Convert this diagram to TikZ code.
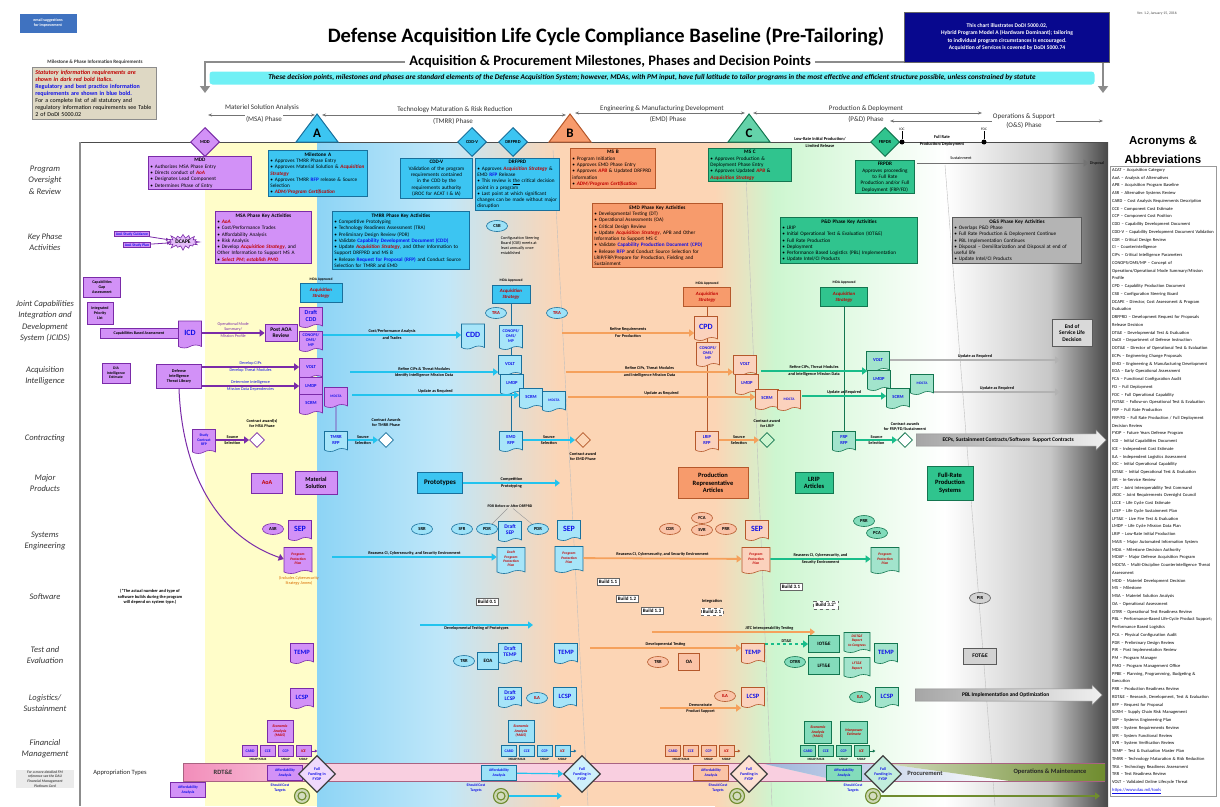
\documentclass[tikz,border=0pt]{standalone}
\usepackage{fontspec}
\setmainfont{Carlito}
\newfontfamily\headfont{Liberation Sans}
\usetikzlibrary{arrows.meta,shapes.geometric,shapes.symbols,shapes.arrows,positioning}
\pgfdeclarelayer{bands}
\pgfdeclarelayer{wires}
\pgfsetlayers{bands,wires,main}
\hyphenpenalty=10000
\exhyphenpenalty=10000
\definecolor{purpD}{HTML}{7A2BA8}
\definecolor{purpL}{HTML}{D291F7}
\definecolor{blueD}{HTML}{19709C}
\definecolor{blueL}{HTML}{3CC5F2}
\definecolor{oraD}{HTML}{B5582B}
\definecolor{oraL}{HTML}{F79B6C}
\definecolor{grnD}{HTML}{137650}
\definecolor{grnL}{HTML}{30C48E}
\definecolor{gryD}{HTML}{5A5A5A}
\definecolor{gryL}{HTML}{B4B4B4}
\definecolor{statRed}{HTML}{C00000}
\definecolor{regBlue}{HTML}{1010E8}
\definecolor{bandYel}{HTML}{FFFDC9}
\definecolor{bandBlu}{HTML}{8DD4F5}
\definecolor{bandOra}{HTML}{FCD5B5}
\definecolor{bandGrn}{HTML}{CDF6D0}
\definecolor{navyBox}{HTML}{08088E}
\definecolor{banner}{HTML}{70F0F5}
\definecolor{infoTan}{HTML}{DED8C4}
\definecolor{mailBlue}{HTML}{3F72C0}
\definecolor{arrCyan}{HTML}{22C3EE}
\definecolor{arrOra}{HTML}{F5A15C}
\definecolor{arrGrn}{HTML}{19BD8A}
\definecolor{olive}{HTML}{6F8C2E}
\definecolor{apPink}{HTML}{F28DBA}
\definecolor{apPinkL}{HTML}{F9CFE0}
\definecolor{apBlue}{HTML}{9CB3DA}
\newcommand\statreq[1]{\textcolor{statRed}{\textbf{\textit{#1}}}}
\newcommand\regreq[1]{\textcolor{regBlue}{\textbf{#1}}}
\newcommand\bul{\textbullet\ }
\newcommand\bxttl[1]{\hfill\textbf{#1}\hfill\null\\}
\begin{document}
\begin{tikzpicture}[x=1pt,y=-1pt,>={Triangle[length=5pt,width=7pt]},
    every node/.style={inner sep=1pt},
    tx/.style={font=\fontsize{4.2}{5}\selectfont,align=center},
    txb/.style={font=\fontsize{4.2}{5}\selectfont\bfseries,align=center},
    rowlab/.style={font=\fontsize{8.5}{11.5}\selectfont\itshape,align=center,text=black!80},
    phase/.style={font=\fontsize{7}{8.5}\selectfont,text=black!80},
    kbox/.style={draw,line width=0.9pt,anchor=north west,align=left,inner sep=2pt,
      font=\fontsize{5.2}{6.3}\selectfont},
    pbox/.style={kbox,draw=purpD,fill=purpL},
    bbox/.style={kbox,draw=blueD,fill=blueL},
    obox/.style={kbox,draw=oraD,fill=oraL},
    gbox/.style={kbox,draw=grnD,fill=grnL},
    ybox/.style={kbox,draw=gryD,fill=gryL},
    sbox/.style={draw,line width=0.8pt,align=center,inner sep=1pt,
      font=\fontsize{4}{4.8}\selectfont\bfseries},
    doc/.style={tape,tape bend top=none,tape bend height=3pt,draw,line width=0.6pt,
      align=center,minimum width=23pt,minimum height=20pt,inner sep=0.5pt,
      text=regBlue,font=\fontsize{4.6}{5.2}\selectfont\bfseries},
    bigdoc/.style={doc,font=\fontsize{8}{8}\selectfont\bfseries},
    ppdoc/.style={doc,text=statRed,font=\fontsize{3.6}{4.2}\selectfont\bfseries\itshape,
      minimum width=28pt,minimum height=26pt},
    pdoc/.style={draw=purpD,fill=purpL},
    bdoc/.style={draw=blueD,fill=blueL!45},
    odoc/.style={draw=oraD,fill=oraL!45},
    gdoc/.style={draw=grnD,fill=grnL!45},
    ev/.style={ellipse,draw,line width=0.6pt,minimum width=21pt,minimum height=11pt,
      inner sep=0pt,font=\fontsize{4.6}{5}\selectfont\bfseries},
    pev/.style={ev,draw=purpD,fill=purpL},
    bev/.style={ev,draw=blueD,fill=blueL!50},
    oev/.style={ev,draw=oraD,fill=oraL!60},
    gev/.style={ev,draw=grnD,fill=grnL!60},
    msdia/.style={diamond,draw,line width=1pt,minimum size=29pt,inner sep=0pt,
      font=\fontsize{4.5}{5}\selectfont\bfseries},
    cdia/.style={diamond,draw,line width=0.8pt,fill=white,minimum size=15pt,inner sep=0pt},
    ffdia/.style={diamond,draw=black!75,line width=1.2pt,minimum size=37pt,inner sep=0pt,
      text=regBlue,font=\fontsize{4}{4.6}\selectfont\bfseries,align=center},
    build/.style={draw=black!60,fill=white,line width=0.6pt,inner sep=2pt,
      font=\fontsize{5}{5}\selectfont\bfseries},
    parr/.style={->,draw=purpD,line width=1.6pt},
    carr/.style={->,draw=arrCyan,line width=1.8pt},
    oarr/.style={->,draw=arrOra,line width=1.8pt},
    garr/.style={->,draw=arrGrn,line width=1.8pt},
    yarr/.style={->,draw=black!30,line width=1.3pt},
    wire/.style={line width=0.6pt},
    phline/.style={{Stealth[length=4pt]}-{Stealth[length=4pt]},draw=black!55,line width=0.6pt},
    bigarr/.style={single arrow,draw=black!45,left color=black!35,right color=black!6,
      single arrow head extend=4pt,inner sep=3.5pt,
      font=\fontsize{5.5}{6}\selectfont\bfseries}]
  \useasboundingbox (0,0) rectangle (1220,806);
  % phase colour bands
  \begin{pgfonlayer}{bands}
    \fill[bandYel] (205,142) rectangle (317,806);
    \shade[left color=bandBlu,right color=bandBlu!55] (317,142) rectangle (445,806);
    \shade[left color=bandBlu!55,right color=bandOra] (445,142) rectangle (560,806);
    \fill[bandOra] (560,142) rectangle (715,806);
    \shade[left color=bandOra,right color=bandGrn] (715,142) rectangle (775,806);
    \shade[left color=bandGrn,right color=white] (775,142) rectangle (945,806);
    \shade[left color=white,right color=black!22] (945,142) rectangle (1050,806);
    \shade[left color=black!22,right color=black!72] (1050,142) rectangle (1108,806);
    \draw[black!25,line width=0.4pt] (553,150) -- (588,806);
    \draw[black!25,line width=0.4pt] (745,150) -- (772,806);
    \draw[black!25,line width=0.4pt] (945,165) -- (995,806);
    \draw[black!70,line width=0.6pt] (80,142) -- (1108,142);
    \draw[black!45,line width=1.5pt] (80,142) -- (80,806);
  \end{pgfonlayer}

  % header
  \node[fill=mailBlue,text=white,font=\fontsize{4}{5}\selectfont\bfseries,align=center,
    minimum width=57pt,minimum height=19pt] (mail) at (48,23) {email suggestions\\for improvement};
  \node[font=\fontsize{20.5}{22}\selectfont\bfseries] (ttl) at (606,37)
    {Defense Acquisition Life Cycle Compliance Baseline (Pre-Tailoring)};
  \node[font=\fontsize{14.5}{16}\selectfont\bfseries,inner sep=4pt] (subttl) at (610,62)
    {Acquisition \& Procurement Milestones, Phases and Decision Points};
  \coordinate (brL) at (205,93);
  \coordinate (brR) at (1103,93);
  \draw[black!45,line width=2.2pt,-{Triangle[length=7pt,width=10pt]}] (subttl.west) -| (brL);
  \draw[black!45,line width=2.2pt,-{Triangle[length=7pt,width=10pt]}] (subttl.east) -| (brR);
  \node[fill=navyBox,draw=black!60,text=white,font=\fontsize{5.6}{7.4}\selectfont\bfseries,
    align=center,minimum width=205pt,minimum height=50pt] (dodi) at (1007,37)
    {This chart illustrates DoDI 5000.02,\\Hybrid Program Model A (Hardware Dominant); tailoring\\
     to individual program circumstances is encouraged.\\Acquisition of Services is covered by DoDI 5000.74};
  \node[font=\fontsize{3.8}{4}\selectfont,text=black!70] (ver) at (1157,14) {Ver. 1.2, January 15, 2016};
  \node[fill=banner,rounded corners=3pt,minimum width=885pt,minimum height=13pt,
    font=\fontsize{7.3}{7.5}\selectfont\bfseries\itshape] (bnr) at (652,78)
    {These decision points, milestones and phases are standard elements of the Defense Acquisition System; however, MDAs, with PM input, have full latitude to tailor programs in the most effective and efficient structure possible, unless constrained by statute};
  \node[font=\fontsize{5}{6}\selectfont\bfseries,text=black!80] (infoHd) at (95,62)
    {Milestone \& Phase Information Requirements};
  \node[draw=black!45,fill=infoTan,line width=0.8pt,anchor=north west,text width=118pt,align=left,
    font=\fontsize{6}{7}\selectfont,inner sep=3pt] (info) at (32,67)
    {\statreq{Statutory information requirements are shown in dark red bold italics.}\\
     \regreq{Regulatory and best practice information requirements are shown in blue bold.}\\
     For a complete list of all statutory and regulatory information requirements see Table 2 of DoDI 5000.02};

  % phases along the top
  \coordinate (msaL) at (208,115); \coordinate (msaR) at (315,115);
  \coordinate (tmrL) at (322,115); \coordinate (tmrR) at (566,115);
  \coordinate (emdL) at (575,113); \coordinate (emdR) at (745,113);
  \coordinate (pndL) at (753,113); \coordinate (pndR) at (982,113);
  \coordinate (onsL) at (890,121); \coordinate (onsR) at (1103,121);
  \draw[phline] (msaL) -- (msaR);
  \draw[phline] (tmrL) -- (tmrR);
  \draw[phline] (emdL) -- (emdR);
  \draw[phline] (pndL) -- (pndR);
  \draw[phline] (onsL) -- (onsR);
  \node[phase] (msaT1) at (262,108) {Materiel Solution Analysis};
  \node[phase,fill=white] (msaT2) at (264,119) {(MSA) Phase};
  \node[phase] (tmrT1) at (455,110) {Technology Maturation \& Risk Reduction};
  \node[phase] (tmrT2) at (453,121) {(TMRR) Phase};
  \node[phase] (emdT1) at (662,109) {Engineering \& Manufacturing Development};
  \node[phase] (emdT2) at (668,119) {(EMD) Phase};
  \node[phase] (pndT1) at (866,109) {Production \& Deployment};
  \node[phase] (pndT2) at (866,119) {(P\&D) Phase};
  \node[phase,fill=white,align=center] (onsT) at (1024,121) {Operations \& Support\\(O\&S) Phase};

  % milestones and decision points
  \foreach \x/\l/\c/\d in {317/A/blueL/blueD,570/B/oraL/oraD,749/C/grnL!75/grnD}{
    \draw[fill=\c,draw=\d,line width=1pt] (\x-21,142) -- (\x,114) -- (\x+21,142) -- cycle;
    \node[font=\fontsize{13}{13}\selectfont\bfseries] (ms\l) at (\x,133) {\l};
  }
  \node[msdia,draw=purpD,fill=purpL] (mdd) at (205,142) {MDD};
  \node[msdia,draw=blueD,fill=blueL] (cddv) at (472,142) {CDD-V};
  \node[msdia,draw=blueD,fill=blueL] (drfprd) at (513,142) {DRFPRD};
  \node[msdia,draw=grnD,fill=grnL] (frpdr) at (885,142) {FRPDR};
  \foreach \x/\n in {902/IOC,984/FOC}{
    \node[circle,fill=black,inner sep=0pt,minimum size=5pt] (\n) at (\x,142) {};
    \node[font=\fontsize{3.6}{4}\selectfont] (lb\n) at (\x,129) {\n};
    \draw[line width=1pt] (\n) -- (lb\n);
  }
  \node[txb,font=\fontsize{4.4}{7}\selectfont\bfseries] (lrip) at (820,142) {Low-Rate Initial Production/\\Limited Release};
  \node[txb,font=\fontsize{4.4}{7}\selectfont\bfseries] (frpd) at (942,141) {Full Rate\\Production/Deployment};
  \node[tx] (sustLab) at (961,158) {Sustainment};
  \node[tx] (dispLab) at (1097,163) {Disposal};
  \coordinate (sustL) at (917,163);
  \draw[->,black!55,line width=0.6pt] (sustL) -- (dispLab.west);

  % row labels
  \foreach \y/\t [count=\i] in {180/{Program\\Oversight\\\& Review},242/{Key Phase\\Activities},
      321/{Joint Capabilities\\Integration and\\Development\\System (JCIDS)},376/{Acquisition\\Intelligence},
      438/{Contracting},483/{Major\\Products},541/{Systems\\Engineering},597/{Software},
      655/{Test and\\Evaluation},703/{Logistics/\\Sustainment},749/{Financial\\Management}}{
    \node[rowlab] (row\i) at (45,\y) {\t};
  }
  \node[fill=black!8,font=\fontsize{3.7}{4.6}\selectfont\bfseries\itshape,align=center,text=black!70,
    minimum width=58pt] (fmNote) at (45,779) {For a more detailed FM\\reference see the DAU\\Financial Management\\Platinum Card};
  \node[font=\fontsize{6.5}{7}\selectfont,text=black!85] (apTypes) at (120,773) {Appropriation Types};

  % program oversight and review
  \node[pbox,text width=99pt] (mddBox) at (148,156) {\bxttl{MDD}
    \bul Authorizes MSA Phase Entry\\
    \bul Directs conduct of \statreq{AoA}\\
    \bul Designates Lead Component\\
    \bul Determines Phase of Entry};
  \node[bbox,text width=95pt] (msaBox) at (268,150) {\bxttl{Milestone A}
    \bul Approves TMRR Phase Entry\\
    \bul Approves Material Solution \& \statreq{Acquisition Strategy}\\
    \bul Approves TMRR \regreq{RFP} release \& Source Selection\\
    \bul \statreq{ADM/Program Certification}};
  \node[bbox,text width=68pt,align=center] (cddvBox) at (400,158) {\textbf{CDD-V}\\
    Validation of the program requirements contained in the CDD by the requirements authority (JROC for ACAT I \& IA)};
  \node[bbox,text width=80pt] (drfBox) at (475,158) {\bxttl{DRFPRD}
    \bul Approves \statreq{Acquisition Strategy} \& EMD \regreq{RFP} Release\\
    \bul This review is \underline{the} critical decision point in a program\\
    \bul Last point at which significant changes can be made without major disruption};
  \node[obox,text width=81pt] (msbBox) at (570,148) {\bxttl{MS B}
    \bul Program Initiation\\
    \bul Approves EMD Phase Entry\\
    \bul Approves \statreq{APB} \& Updated DRFPRD information\\
    \bul \statreq{ADM/Program Certification}};
  \node[gbox,text width=79pt] (mscBox) at (708,148) {\bxttl{MS C}
    \bul Approves Production \& Deployment Phase Entry\\
    \bul Approves Updated \statreq{APB} \& \statreq{Acquisition Strategy}};
  \node[gbox,text width=55pt,align=center] (frpdrBox) at (855,160) {\textbf{FRPDR}\\
    Approves proceeding to Full Rate Production and/or Full Deployment (FRP/FD)};

  % key phase activities
  \node[sbox,draw=purpD,fill=purpL,font=\fontsize{3.8}{4.4}\selectfont\bfseries,text=regBlue] (aoaSG) at (132,234) {AoA Study Guidance};
  \node[sbox,draw=purpD,fill=purpL,font=\fontsize{3.8}{4.4}\selectfont\bfseries,text=regBlue] (aoaSP) at (137,245) {AoA Study Plan};
  \node[starburst,starburst points=16,starburst point height=5pt,draw=purpD,fill=purpL!60,
    line width=0.6pt,font=\fontsize{5.5}{6}\selectfont\bfseries,inner sep=1pt] (dcape) at (183,242) {DCAPE};
  \draw[-{Triangle[length=3pt,width=3pt]},draw=purpD,line width=0.8pt] (aoaSG) -- (dcape);
  \draw[-{Triangle[length=3pt,width=3pt]},draw=purpD,line width=0.8pt] (aoaSP) -- (dcape);
  \node[pbox,text width=92pt] (msaAct) at (215,211) {\bxttl{MSA Phase Key Activities}
    \bul \statreq{AoA}\\
    \bul Cost/Performance Trades\\
    \bul Affordability Analysis\\
    \bul Risk Analysis\\
    \bul Develop \statreq{Acquisition Strategy}, and Other Information to Support MS A\\
    \bul \statreq{Select PM; establish PMO}};
  \node[bbox,text width=133pt] (tmrrAct) at (332,211) {\bxttl{TMRR Phase Key Activities}
    \bul Competitive Prototyping\\
    \bul Technology Readiness Assessment (TRA)\\
    \bul Preliminary Design Review (PDR)\\
    \bul Validate \regreq{Capability Development Document (CDD)}\\
    \bul Update \statreq{Acquisition Strategy}, and Other Information to Support DRFPRD and MS B\\
    \bul Release \regreq{Request for Proposal (RFP)} and Conduct Source Selection for TMRR and EMD};
  \node[bev] (csb) at (497,226) {CSB};
  \node[tx,align=left] (csbTxt) at (520,246) {Configuration Steering\\Board (CSB) meets at\\least annually once\\established};
  \node[obox,text width=126pt] (emdAct) at (592,203) {\bxttl{EMD Phase Key Activities}
    \bul Developmental Testing (DT)\\
    \bul Operational Assessments (OA)\\
    \bul Critical Design Review\\
    \bul Update \statreq{Acquisition Strategy}, APB and Other Information to Support MS C\\
    \bul Validate \regreq{Capability Production Document (CPD)}\\
    \bul Release \regreq{RFP} and Conduct Source Selection for LRIP/FRP/Prepare for Production, Fielding and Sustainment};
  \node[gbox,text width=133pt] (pdAct) at (780,217) {\bxttl{P\&D Phase Key Activities}
    \bul LRIP\\
    \bul Initial Operational Test \& Evaluation (IOT\&E)\\
    \bul Full Rate Production\\
    \bul Deployment\\
    \bul Performance Based Logistics (PBL) Implementation\\
    \bul Update Intel/CI Products};
  \node[ybox,text width=125pt] (osAct) at (952,217) {\bxttl{O\&S Phase Key Activities}
    \bul Overlaps P\&D Phase\\
    \bul Full Rate Production \& Deployment Continue\\
    \bul PBL Implementation Continues\\
    \bul Disposal -- Demilitarization and Disposal at end of useful life\\
    \bul Update Intel/CI Products};

  % JCIDS
  \node[sbox,draw=purpD,fill=purpL,minimum width=37pt,minimum height=20pt] (capGap) at (102,287) {Capabilities\\Gap\\Assessment};
  \node[sbox,draw=purpD,fill=purpL,minimum width=26pt,minimum height=22pt] (ipl) at (100,313) {Integrated\\Priority\\List};
  \node[sbox,draw=purpD,fill=purpL,minimum width=78pt,minimum height=10pt] (cba) at (139,333) {Capabilities Based Assessment};
  \node[bigdoc,pdoc,minimum height=27pt] (icd) at (190,333) {ICD};
  \node[sbox,draw=purpD,fill=purpL,font=\fontsize{5.5}{6}\selectfont\bfseries,minimum width=32pt,
    minimum height=17pt] (postAoA) at (281,333) {Post AOA\\Review};
  \draw[parr] (icd) -- node[above,tx,text=purpD]{Operational Mode\\Summary/} node[below,tx,text=purpD]{Mission Profile} (postAoA);
  \node[txb,font=\fontsize{3.6}{4}\selectfont\bfseries] (maLabA) at (321,280) {MDA Approved};
  \node[sbox,draw=blueD,fill=blueL,text=statRed,font=\fontsize{4.8}{5.6}\selectfont\bfseries\itshape,
    minimum width=42pt,minimum height=19pt] (asA) at (321,293) {Acquisition\\Strategy};
  \node[doc,pdoc,font=\fontsize{6}{6.5}\selectfont\bfseries] (draftCdd) at (311,316) {Draft\\CDD};
  \node[doc,pdoc,font=\fontsize{4.2}{4.8}\selectfont\bfseries] (conopsA) at (311,340) {CONOPS/\\OMS/\\MP};
  \node[bigdoc,bdoc,minimum height=25pt] (cdd) at (473,335) {CDD};
  \draw[carr] (conopsA.east |- cdd) -- node[above,txb]{Cost/Performance Analysis} node[below,txb]{and Trades} (cdd);
  \node[txb,font=\fontsize{3.6}{4}\selectfont\bfseries] (maLabB) at (511,281) {MDA Approved};
  \node[sbox,draw=blueD,fill=blueL,text=statRed,font=\fontsize{4.8}{5.6}\selectfont\bfseries\itshape,
    minimum width=38pt,minimum height=18pt] (asB) at (511,294) {Acquisition\\Strategy};
  \node[bev,text=statRed] (tra1) at (496,313) {TRA};
  \node[bev,text=statRed] (tra2) at (557,313) {TRA};
  \node[doc,bdoc,font=\fontsize{4.2}{4.8}\selectfont\bfseries,minimum height=24pt] (conopsB) at (511,336) {CONOPS/\\OMS/\\MP};
  \node[txb,font=\fontsize{3.6}{4}\selectfont\bfseries] (maLabC) at (707,284) {MDA Approved};
  \node[sbox,draw=oraD,fill=oraL,text=statRed,font=\fontsize{4.8}{5.6}\selectfont\bfseries\itshape,
    minimum width=47pt,minimum height=19pt] (asC) at (707,297) {Acquisition\\Strategy};
  \node[bigdoc,odoc,minimum height=24pt] (cpd) at (706,327) {CPD};
  \node[doc,odoc,font=\fontsize{4.2}{4.8}\selectfont\bfseries,minimum height=24pt] (conopsC) at (708,353) {CONOPS/\\OMS/\\MP};
  \coordinate (rrS) at (562,333);
  \draw[oarr] (rrS) -- node[above,txb]{Refine Requirements} node[below,txb]{For Production} (rrS -| cpd.west);
  \node[txb,font=\fontsize{3.6}{4}\selectfont\bfseries] (maLabD) at (844,283) {MDA Approved};
  \node[sbox,draw=grnD,fill=grnL,text=statRed,font=\fontsize{4.8}{5.6}\selectfont\bfseries\itshape,
    minimum width=47pt,minimum height=19pt] (asD) at (844,297) {Acquisition\\Strategy};
  \node[sbox,draw=gryD,fill=gryL!50,font=\fontsize{5.5}{6.5}\selectfont\bfseries,minimum width=40pt,
    minimum height=27pt] (eosl) at (1072,333) {End of\\Service Life\\Decision};

  % acquisition intelligence
  \node[sbox,draw=purpD,fill=purpL,minimum width=28pt,minimum height=20pt,
    font=\fontsize{3.8}{4.4}\selectfont\bfseries] (intEst) at (116,373) {DIA\\Intelligence\\Estimate};
  \node[sbox,draw=purpD,fill=purpL,minimum width=45pt,minimum height=24pt,
    font=\fontsize{4.2}{5}\selectfont\bfseries] (ditl) at (179,376) {Defense\\Intelligence\\Threat Library};
  \node[doc,pdoc] (voltA) at (311,367) {VOLT};
  \node[doc,pdoc] (lmdpA) at (311,386) {LMDP};
  \node[doc,pdoc] (scrmA) at (311,403) {SCRM};
  \node[doc,pdoc,font=\fontsize{3.6}{4}\selectfont\bfseries] (mdctaA) at (336,396) {MDCTA};
  \draw[parr] (ditl.east |- voltA) -- node[above,tx,text=regBlue]{Develop CIPs} node[below,tx,text=regBlue]{Develop Threat Modules} (voltA);
  \draw[parr] (ditl.east |- lmdpA) -- node[above,tx,text=regBlue]{Determine Intelligence} node[below,tx,text=regBlue]{Mission Data Dependencies} (lmdpA);
  \node[doc,bdoc] (voltB) at (510,364) {VOLT};
  \node[doc,bdoc] (lmdpB) at (512,383) {LMDP};
  \node[doc,bdoc] (scrmB) at (531,397) {SCRM};
  \node[doc,bdoc,font=\fontsize{3.6}{4}\selectfont\bfseries] (mdctaB) at (554,400) {MDCTA};
  \coordinate (ciA) at (350,372);
  \coordinate (ciB) at (352,395);
  \draw[carr] (ciA) -- node[above,txb]{Refine CIPs \& Threat Modules} node[below,txb]{Identify Intelligence Mission Data} (ciA -| voltB.west);
  \draw[carr] (ciB) -- node[above,txb]{Update as Required} (ciB -| scrmB.west);
  \node[doc,odoc] (voltC) at (745,364) {VOLT};
  \node[doc,odoc] (lmdpC) at (747,383) {LMDP};
  \node[doc,odoc] (scrmC) at (767,398) {SCRM};
  \node[doc,odoc,font=\fontsize{3.6}{4}\selectfont\bfseries] (mdctaC) at (789,399) {MDCTA};
  \coordinate (coA) at (566,372);
  \coordinate (coB) at (568,397);
  \draw[oarr] (coA) -- node[above,txb]{Refine CIPs, Threat Modules} node[below,txb]{and Intelligence Mission Data} (coA -| voltC.west);
  \draw[oarr] (coB) -- node[above,txb]{Update as Required} (coB -| scrmC.west);
  \node[doc,gdoc] (voltD) at (878,360) {VOLT};
  \node[doc,gdoc] (lmdpD) at (879,379) {LMDP};
  \node[doc,gdoc] (scrmD) at (898,397) {SCRM};
  \node[doc,gdoc,font=\fontsize{3.6}{4}\selectfont\bfseries] (mdctaD) at (922,383) {MDCTA};
  \coordinate (cgA) at (761,371);
  \coordinate (cgB) at (802,396);
  \draw[garr] (cgA) -- node[above,txb]{Refine CIPs, Threat Modules} node[below,txb]{and Intelligence Mission Data} (cgA -| lmdpD.west);
  \draw[garr] (cgB) -- node[above,txb]{Update as Required} (cgB -| scrmD.west);
  \coordinate (gyA) at (1060,360);
  \coordinate (gyB) at (1060,392);
  \draw[yarr] (voltD.east |- gyA) -- node[above,txb]{Update as Required} (gyA);
  \draw[yarr] (mdctaD.east |- gyB) -- node[above,txb]{Update as Required} (gyB);

  % contracting
  \node[doc,pdoc,font=\fontsize{3.8}{4.4}\selectfont\bfseries,minimum height=24pt] (scRFP) at (204,440) {Study\\Contract\\RFP};
  \node[cdia,draw=purpD] (cdMSA) at (257,440) {};
  \node[txb] (cdMSAt) at (262,423) {Contract award(s)\\for MSA Phase};
  \draw[parr] (scRFP) -- node[above,txb]{Source} node[below,txb]{Selection} (cdMSA);
  \node[doc,bdoc] (tmrrRFP) at (336,440) {TMRR\\RFP};
  \node[cdia,draw=blueD] (cdTMRR) at (386,440) {};
  \node[txb] (cdTMRRt) at (386,423) {Contract Awards\\for TMRR Phase};
  \draw[carr] (tmrrRFP) -- node[above,txb]{Source} node[below,txb]{Selection} (cdTMRR);
  \node[doc,bdoc] (emdRFP) at (511,440) {EMD\\RFP};
  \node[cdia,draw=oraD,fill=bandOra] (cdEMD) at (583,440) {};
  \node[txb] (cdEMDt) at (583,457) {Contract award\\for EMD Phase};
  \draw[carr] (emdRFP) -- node[above,txb]{Source} node[below,txb]{Selection} (cdEMD);
  \node[doc,odoc] (lripRFP) at (707,440) {LRIP\\RFP};
  \node[cdia,draw=grnD,fill=bandGrn] (cdLRIP) at (767,440) {};
  \node[txb] (cdLRIPt) at (767,424) {Contract award\\for LRIP};
  \draw[oarr] (lripRFP) -- node[above,txb]{Source} node[below,txb]{Selection} (cdLRIP);
  \node[doc,gdoc] (frpRFP) at (844,440) {FRP\\RFP};
  \node[cdia,draw=grnD] (cdFRP) at (905,440) {};
  \node[txb] (cdFRPt) at (905,427) {Contract awards\\for FRP/FD/Sustainment};
  \draw[garr] (frpRFP) -- node[above,txb]{Source} node[below,txb]{Selection} (cdFRP);
  \node[bigarr,minimum height=190pt,anchor=west] (ecps) at (916,440) {ECPs, Sustainment Contracts/Software\ \ Support Contracts};
  \begin{pgfonlayer}{wires}
    \draw[wire,draw=purpD] (mdctaA) -- (tmrrRFP);
    \draw[wire,draw=blueD] (asB) -- (emdRFP);
    \draw[wire,draw=oraD] (asC) -- (lripRFP);
    \draw[wire,draw=grnD] (asD) -- (frpRFP);
  \end{pgfonlayer}

  % major products
  \node[sbox,draw=purpD,fill=purpL,text=statRed,font=\fontsize{6}{7}\selectfont\bfseries,
    minimum width=31pt,minimum height=20pt] (aoaP) at (267,483) {AoA};
  \node[sbox,draw=purpD,fill=purpL,font=\fontsize{6}{7}\selectfont\bfseries,
    minimum width=42pt,minimum height=23pt] (matSol) at (316,483) {Material\\Solution};
  \node[sbox,draw=blueD,fill=blueL,font=\fontsize{7}{8}\selectfont\bfseries,
    minimum width=45pt,minimum height=21pt] (proto) at (440,483) {Prototypes};
  \coordinate (protoE) at (560,483);
  \draw[carr] (proto) -- node[above,txb]{Competition} node[below,txb]{Prototyping} (protoE);
  \node[sbox,draw=oraD,fill=oraL,font=\fontsize{6.5}{7.5}\selectfont\bfseries,
    minimum width=70pt,minimum height=31pt] (pra) at (713,483) {Production\\Representative\\Articles};
  \node[sbox,draw=grnD,fill=grnL,font=\fontsize{6.5}{7.5}\selectfont\bfseries,
    minimum width=38pt,minimum height=21pt] (lripArt) at (814,483) {LRIP\\Articles};
  \node[sbox,draw=grnD,fill=grnL,font=\fontsize{6.5}{7.5}\selectfont\bfseries,
    minimum width=46pt,minimum height=34pt] (frpSys) at (950,483) {Full-Rate\\Production\\Systems};

  % systems engineering
  \node[pev] (asr) at (273,529) {ASR};
  \node[bigdoc,pdoc] (sepA) at (300,529) {SEP};
  \node[ppdoc,pdoc] (ppA) at (298,559) {Program\\Protection\\Plan};
  \node[tx,text=orange!85!black] (ppNote) at (299,581) {(Includes Cybersecurity\\Strategy Annex)};
  \draw[parr,line width=1pt] (ditl.south) .. controls (182,470) and (215,535) .. (ppA.west);
  \node[bev] (srr) at (422,529) {SRR};
  \node[bev] (sfr) at (462,529) {SFR};
  \node[bev] (pdr1) at (487,529) {PDR};
  \node[doc,bdoc,font=\fontsize{5.5}{6}\selectfont\bfseries] (draftSep) at (510,530) {Draft\\SEP};
  \node[bev] (pdr2) at (538,529) {PDR};
  \node[bigdoc,bdoc] (sepB) at (569,529) {SEP};
  \node[txb,font=\fontsize{3.8}{4.4}\selectfont\bfseries] (pdrNote) at (510,506) {PDR Before or After DRFPRD};
  \draw[black!40,line width=0.4pt] (pdrNote) -- (pdr1);
  \draw[black!40,line width=0.4pt] (pdrNote) -- (pdr2);
  \node[ppdoc,bdoc] (draftPP) at (511,559) {Draft\\Program\\Protection\\Plan};
  \node[ppdoc,bdoc] (ppB) at (569,558) {Program\\Protection\\Plan};
  \coordinate (reA) at (332,557);
  \draw[carr] (reA) -- node[above,txb]{Reassess CI, Cybersecurity, and Security Environment} (reA -| draftPP.west);
  \node[oev] (cdr) at (670,529) {CDR};
  \node[oev] (fca) at (702,518) {FCA};
  \node[oev] (svr) at (702,530) {SVR};
  \node[oev] (prr1) at (726,529) {PRR};
  \node[bigdoc,odoc] (sepC) at (757,529) {SEP};
  \node[ppdoc,odoc] (ppC) at (756,559) {Program\\Protection\\Plan};
  \draw[oarr] (ppB) -- node[above,txb]{Reassess CI, Cybersecurity, and Security Environment} (ppC);
  \node[gev] (prr2) at (864,521) {PRR};
  \node[gev] (pca) at (877,533) {PCA};
  \node[ppdoc,gdoc] (ppD) at (885,559) {Program\\Protection\\Plan};
  \draw[garr] (ppC) -- node[above,txb]{Reassess CI, Cybersecurity, and} node[below,txb]{Security Environment} (ppD);

  % software
  \node[tx,font=\fontsize{4.4}{5.4}\selectfont\bfseries] (swNote) at (150,597)
    {(*The actual number and type of\\software builds during the program\\will depend on system type.)};
  \node[build] (b01) at (487,602) {Build 0.1};
  \node[build] (b11) at (608,582) {Build 1.1};
  \node[build] (b12) at (627,599) {Build 1.2};
  \node[build] (b13) at (652,611) {Build 1.3};
  \node[txb,font=\fontsize{4.4}{5}\selectfont\bfseries] (integ) at (712,601) {Integration};
  \node[build,dashed] (b21) at (712,612) {Build 2.1};
  \node[build] (b31) at (791,587) {Build 3.1};
  \node[build,dashed] (b32) at (826,605) {Build 3.2*};
  \node[ev,draw=gryD,fill=gryL!60] (pir) at (980,598) {PIR};

  % test and evaluation
  \node[bigdoc,pdoc,font=\fontsize{6.5}{7}\selectfont\bfseries] (tempA) at (302,652) {TEMP};
  \coordinate (dtpS) at (420,625);
  \coordinate (dtpE) at (533,625);
  \draw[carr] (dtpS) -- node[below,txb]{Developmental Testing of Prototypes} (dtpE);
  \node[bev] (trrB) at (464,661) {TRR};
  \node[sbox,draw=blueD,fill=blueL!50,font=\fontsize{5}{5}\selectfont\bfseries,minimum width=21pt,
    minimum height=17pt] (eoa) at (488,661) {EOA};
  \node[doc,bdoc,font=\fontsize{5.5}{6}\selectfont\bfseries] (draftTemp) at (510,652) {Draft\\TEMP};
  \node[bigdoc,bdoc,font=\fontsize{6.5}{7}\selectfont\bfseries] (tempB) at (566,652) {TEMP};
  \coordinate (jitcS) at (652,632);
  \coordinate (jitcE) at (815,632);
  \draw[oarr] (jitcS) -- node[above,txb,pos=0.72]{JITC Interoperability Testing} (jitcE);
  \node[oev] (trrC) at (658,662) {TRR};
  \node[sbox,draw=oraD,fill=oraL!60,font=\fontsize{5}{5}\selectfont\bfseries,minimum width=21pt,
    minimum height=17pt] (oa) at (689,662) {OA};
  \node[bigdoc,odoc,font=\fontsize{6.5}{7}\selectfont\bfseries] (tempC) at (753,652) {TEMP};
  \coordinate (dtS) at (590,648);
  \draw[oarr] (dtS) -- node[above,txb]{Developmental Testing} (dtS -| tempC.west);
  \node[sbox,draw=grnD,fill=grnL!60,font=\fontsize{5}{5}\selectfont\bfseries,minimum width=31pt,
    minimum height=17pt] (iote) at (824,644) {IOT\&E};
  \node[sbox,draw=grnD,fill=grnL!60,font=\fontsize{5}{5}\selectfont\bfseries,minimum width=31pt,
    minimum height=17pt] (lfte) at (824,666) {LFT\&E};
  \node[gev] (otrr) at (795,662) {OTRR};
  \draw[garr,dashed,line width=1.2pt] (tempC.east |- iote) -- node[above,txb]{DT\&E} (iote);
  \node[doc,gdoc,text=statRed,font=\fontsize{3.6}{4.2}\selectfont\bfseries\itshape,minimum width=26pt] (dotRep) at (857,641) {DOT\&E\\Report\\to Congress};
  \node[doc,gdoc,text=statRed,font=\fontsize{3.6}{4.2}\selectfont\bfseries\itshape,minimum width=26pt] (lfteRep) at (857,666) {LFT\&E\\Report};
  \node[bigdoc,gdoc,font=\fontsize{6.5}{7}\selectfont\bfseries] (tempD) at (886,652) {TEMP};
  \node[sbox,draw=gryD,fill=gryL!60,font=\fontsize{5.5}{6}\selectfont\bfseries,minimum width=33pt,
    minimum height=16pt] (fote) at (980,656) {FOT\&E};

  % logistics / sustainment
  \node[bigdoc,pdoc,font=\fontsize{6.5}{7}\selectfont\bfseries] (lcspA) at (302,697) {LCSP};
  \node[doc,bdoc,font=\fontsize{5.5}{6}\selectfont\bfseries] (draftLcsp) at (510,696) {Draft\\LCSP};
  \node[bev,text=statRed] (ilaB) at (537,698) {ILA};
  \node[bigdoc,bdoc,font=\fontsize{6.5}{7}\selectfont\bfseries] (lcspB) at (565,696) {LCSP};
  \node[oev,text=statRed] (ilaC) at (725,696) {ILA};
  \node[bigdoc,odoc,font=\fontsize{6.5}{7}\selectfont\bfseries] (lcspC) at (753,696) {LCSP};
  \coordinate (dpsS) at (660,708);
  \draw[oarr] (dpsS) -- node[above,txb]{Demonstrate} node[below,txb]{Product Support} (dpsS -| lcspC.west);
  \node[gev,text=statRed] (ilaD) at (860,697) {ILA};
  \node[bigdoc,gdoc,font=\fontsize{6.5}{7}\selectfont\bfseries] (lcspD) at (887,696) {LCSP};
  \node[bigarr,minimum height=187pt,anchor=west] (pbl) at (915,695) {PBL Implementation and Optimization};

  % financial management
  \shade[left color=apPink,right color=apPinkL] (183,763) rectangle (330,781);
  \fill[apPinkL] (330,763) -- (760,763) -- (840,781) -- (330,781) -- cycle;
  \shade[left color=apBlue,right color=white] (760,763) -- (880,763) -- (1010,781) -- (840,781) -- cycle;
  \shade[left color=olive!30,right color=olive] (880,763) -- (1105,763) -- (1105,781) -- (1010,781) -- cycle;
  \draw[apPink!70!black,line width=0.6pt] (183,781) -- (183,763) -- (1105,763) (183,781) -- (1105,781);
  \node[font=\fontsize{6.5}{7}\selectfont\bfseries,text=black!80] (rdte) at (223,772) {RDT\&E};
  \node[font=\fontsize{6.5}{7}\selectfont\bfseries,text=black!80] (procur) at (925,773) {Procurement};
  \node[font=\fontsize{6.5}{7}\selectfont\bfseries,text=black!85] (onm) at (1050,772) {Operations \& Maintenance};
  \node[sbox,draw=purpD,fill=purpL,text=statRed,font=\fontsize{3.8}{4.4}\selectfont\bfseries\itshape,
    minimum width=26pt,minimum height=22pt] (eaA) at (280,731) {Economic\\Analysis\\(MAIS)};
  \node[sbox,draw=blueD,fill=blueL!50,text=statRed,font=\fontsize{3.8}{4.4}\selectfont\bfseries\itshape,
    minimum width=26pt,minimum height=22pt] (eaB) at (521,731) {Economic\\Analysis\\(MAIS)};
  \node[sbox,draw=grnD,fill=grnL!60,text=statRed,font=\fontsize{3.8}{4.4}\selectfont\bfseries\itshape,
    minimum width=27pt,minimum height=22pt] (eaD) at (818,732) {Economic\\Analysis\\(MAIS)};
  \node[sbox,draw=grnD,fill=grnL!60,text=statRed,font=\fontsize{3.8}{4.4}\selectfont\bfseries\itshape,
    minimum width=27pt,minimum height=22pt] (mpD) at (854,732) {Manpower\\Estimate};
  \foreach \g/\x/\dc/\fc in {A/250/purpD/purpL,B/509/blueD/blueL!50,C/673/oraD/oraL!60,D/808/grnD/grnL!60}{
    \node[sbox,draw=\dc,fill=\fc,text=regBlue,minimum width=15pt,minimum height=11pt,
      font=\fontsize{3.8}{4}\selectfont\bfseries] (card\g) at (\x,751) {CARD};
    \node[sbox,draw=\dc,fill=\fc,text=regBlue,minimum width=15pt,minimum height=11pt,
      font=\fontsize{3.8}{4}\selectfont\bfseries,right=2pt of card\g] (cce\g) {CCE};
    \node[sbox,draw=\dc,fill=\fc,text=regBlue,minimum width=15pt,minimum height=11pt,
      font=\fontsize{3.8}{4}\selectfont\bfseries,right=2pt of cce\g] (ccp\g) {CCP};
    \node[sbox,draw=\dc,fill=\fc,text=statRed,minimum width=15pt,minimum height=11pt,
      font=\fontsize{3.8}{4}\selectfont\bfseries\itshape,right=2pt of ccp\g] (ice\g) {ICE};
    \coordinate[right=6pt of ice\g] (iceE\g);
    \draw[-{Triangle[length=2.5pt,width=3pt]},draw=\dc,line width=0.7pt] (ice\g) -- (iceE\g);
    \node[font=\fontsize{3.2}{4}\selectfont\bfseries,below=0.5pt of card\g.south east] (mm\g) {MDAP/MAIS};
    \node[font=\fontsize{3.2}{4}\selectfont\bfseries,below=0.5pt of ccp\g] (mp\g) {MDAP};
    \node[font=\fontsize{3.2}{4}\selectfont\bfseries,below=0.5pt of ice\g] (mi\g) {MDAP};
  }
  \foreach \g/\x/\y/\dc/\fc in {L/188/790/purpD/purpL,A/285/773/purpD/purpL,B/499/773/blueD/blueL!50,
      C/711/773/oraD/oraL!60,D/844/773/grnD/grnL!60}{
    \node[sbox,draw=\dc,fill=\fc,text=regBlue,font=\fontsize{3.8}{4.4}\selectfont\bfseries,
      minimum width=35pt,minimum height=15pt] (aff\g) at (\x,\y) {Affordability\\Analysis};
  }
  \foreach \g/\x/\f in {A/317/purpL!35,B/582/blueL!25,C/749/oraL!30,D/883/grnL!30}{
    \node[ffdia,fill=\f] (ff\g) at (\x,774) {Full\\Funding in\\FYDP};
  }
  \foreach \g/\x/\tx in {A/302/280,B/501/476,C/737/718,D/873/853}{
    \node[circle,draw=olive,fill=olive!35,line width=1.1pt,minimum size=15pt,inner sep=0pt] (tgt\g) at (\x,796) {};
    \node[circle,draw=olive,fill=white!70!olive,line width=1.1pt,minimum size=8pt,inner sep=0pt] (tgtI\g) at (tgt\g) {};
    \node[txb,text=regBlue,font=\fontsize{3.8}{4.4}\selectfont\bfseries] (sct\g) at (\tx,788) {Should Cost\\Targets};
  }
  \draw[carr,line width=1.2pt] (affB) -- (ffB);
  \coordinate (sctBE) at (562,796);
  \draw[carr,line width=1.2pt] (tgtB) -- (sctBE);
  \coordinate (sctDE) at (1100,796);
  \draw[->,draw=olive,line width=1.6pt] (tgtD) -- (sctDE);

  % acronyms panel
  \node[font=\headfont\fontsize{11.5}{19}\selectfont\bfseries,align=center] (acrHd) at (1163,150) {Acronyms \&\\Abbreviations};
  \node[draw=black!40,fill=white,anchor=north west,text width=102pt,align=left,inner sep=2pt,
    font=\fontsize{4.5}{7.75}\selectfont] (acr) at (1110,166)
    {ACAT -- Acquisition Category\\AoA -- Analysis of Alternatives\\APB -- Acquisition Program Baseline\\
     ASR -- Alternative Systems Review\\CARD -- Cost Analysis Requirements Description\\
     CCE -- Component Cost Estimate\\CCP -- Component Cost Position\\CDD -- Capability Development Document\\
     CDD-V -- Capability Development Document Validation\\CDR -- Critical Design Review\\
     CI -- Counterintelligence\\CIPs -- Critical Intelligence Parameters\\
     CONOPS/OMS/MP -- Concept of Operations/Operational Mode Summary/Mission Profile\\
     CPD -- Capability Production Document\\CSB -- Configuration Steering Board\\
     DCAPE -- Director, Cost Assessment \& Program Evaluation\\
     DRFPRD -- Development Request for Proposals Release Decision\\DT\&E -- Developmental Test \& Evaluation\\
     DoDI -- Department of Defense Instruction\\DOT\&E -- Director of Operational Test \& Evaluation\\
     ECPs -- Engineering Change Proposals\\EMD -- Engineering \& Manufacturing Development\\
     EOA -- Early Operational Assessment\\FCA -- Functional Configuration Audit\\FD -- Full Deployment\\
     FOC -- Full Operational Capability\\FOT\&E -- Follow-on Operational Test \& Evaluation\\
     FRP -- Full Rate Production\\FRP/FD -- Full Rate Production / Full Deployment Decision Review\\
     FYDP -- Future Years Defense Program\\ICD -- Initial Capabilities Document\\
     ICE -- Independent Cost Estimate\\ILA -- Independent Logistics Assessment\\
     IOC -- Initial Operational Capability\\IOT\&E -- Initial Operational Test \& Evaluation\\
     ISR -- In-Service Review\\JITC -- Joint Interoperability Test Command\\
     JROC -- Joint Requirements Oversight Council\\LCCE -- Life Cycle Cost Estimate\\
     LCSP -- Life Cycle Sustainment Plan\\LFT\&E -- Live Fire Test \& Evaluation\\
     LMDP -- Life Cycle Mission Data Plan\\LRIP -- Low-Rate Initial Production\\
     MAIS -- Major Automated Information System\\MDA -- Milestone Decision Authority\\
     MDAP -- Major Defense Acquisition Program\\MDCTA -- Multi-Discipline Counterintelligence Threat Assessment\\
     MDD -- Materiel Development Decision\\MS -- Milestone\\MSA -- Materiel Solution Analysis\\
     OA -- Operational Assessment\\OTRR -- Operational Test Readiness Review\\
     PBL -- Performance-Based Life-Cycle Product Support; Performance Based Logistics\\
     PCA -- Physical Configuration Audit\\PDR -- Preliminary Design Review\\
     PIR -- Post Implementation Review\\PM -- Program Manager\\PMO -- Program Management Office\\
     PPBE -- Planning, Programming, Budgeting \& Execution\\PRR -- Production Readiness Review\\
     RDT\&E -- Research, Development, Test \& Evaluation\\RFP -- Request for Proposal\\
     SCRM -- Supply Chain Risk Management\\SEP -- Systems Engineering Plan\\
     SRR -- System Requirements Review\\SFR -- System Functional Review\\SVR -- System Verification Review\\
     TEMP -- Test \& Evaluation Master Plan\\TMRR -- Technology Maturation \& Risk Reduction\\
     TRA -- Technology Readiness Assessment\\TRR -- Test Readiness Review\\
     VOLT -- Validated Online Lifecycle Threat\\\textcolor{regBlue}{\underline{https://www.dau.mil/tools}}};
\end{tikzpicture}
\end{document}
